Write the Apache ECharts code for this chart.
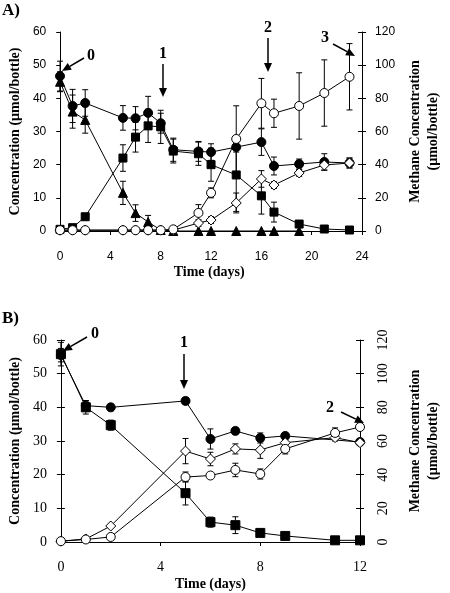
<!DOCTYPE html>
<html><head><meta charset="utf-8">
<script src="https://cdn.jsdelivr.net/npm/echarts/dist/echarts.min.js"></script>
<style>html,body{margin:0;padding:0;background:#fff}#c{width:450px;height:593px}</style>
</head><body><div id="c"></div>
<script>
// ---------- Panel A data ----------
const ticksA_x = [0, 4, 8, 12, 16, 20, 24];
const circA_days = [0,1,2,5,6,7,8,9,11,12,14,16,17,19,21,23];
const circA_vals = [46.7,37.7,38.6,34.1,34.0,35.6,32.5,24.5,24.0,23.8,25.3,26.8,19.6,20.2,20.8,20.5];
const circA_err  = [4.5,5,4,3.7,3.5,5,3,3.5,3,2.5,1.5,4,2.7,1.5,2.5,1.5];

const sqA_days = [0,1,2,5,6,7,8,9,11,12,14,16,17,19,21,23];
const sqA_vals = [0.5,1.0,4.3,22,28.3,31.7,31.4,24.1,23.3,20,16.9,10.6,5.7,2.1,0.6,0.3];
const sqA_err  = [0,0,0,4,4.5,5,5,3.6,3.5,5,11,5.5,3,0,0,0];

const triA_days = [0,1,2,5,6,7,8,9,11,12,14,16,17,19];
const triA_vals = [45,36,33.5,11.5,5.4,2.7,0.3,0,0,0,0,0,0,0];
const triA_err  = [3,5,4,3.5,2.5,2,0,0,0,0,0,0,0,0];

// methane (right axis)
const ocA_days = [0,1,2,5,6,7,8,9,11,12,14,16,17,19,21,23];
const ocA_vals = [0.5,0.5,0.5,0.5,0.5,0.5,0.5,1,10.9,23,55.5,77,71,75.4,83.2,93];
const ocA_err  = [0,0,0,0,0,0,0,0,5,3,20,15,8.5,20,20,20];

const dmA_days = [0,1,2,5,6,7,8,9,11,12,14,16,17,19,21,23];
const dmA_vals = [0.5,0.5,0.5,0.5,0.5,0.5,0.5,0.5,4.8,6.6,16.9,31.4,27.7,35,39.8,41];
const dmA_err  = [0,0,0,0,0,0,0,0,2,2,6,5,2,2,3,3];

// ---------- Panel B data ----------
const ticksB_x = [0, 4, 8, 12];
const sqB_days = [0,1,2,5,6,7,8,9,11,12];
const sqB_vals = [55.8,40,34.7,14.5,5.9,5,2.7,1.8,0.5,0.5];
const sqB_err  = [3.5,2,1.5,3.5,1.5,2.5,1,0.5,0.5,0.5];

const circB_days = [0,1,2,5,6,7,8,9,12];
const circB_vals = [55.5,40.5,40,41.9,30.6,33,30.9,31.5,29.7];
const circB_err  = [2,1.5,1,1,3,1,1.5,1,1];

const dmB_days = [0,1,2,5,6,7,8,9,11,12];
const dmB_vals = [0.5,1.8,9.5,54,49.3,55.3,54.7,59,62,59];
const dmB_err  = [0,0,0,7.5,4,3,5,2,2,1];

const ocB_days = [0,1,2,5,6,7,8,9,11,12];
const ocB_vals = [0.5,1.5,3,38.6,39.5,42.8,40.4,55.3,64.8,68.3];
const ocB_err  = [0,0,0,3,1,4,3,3,3,2];

const SERIF = '"Liberation Serif","Times New Roman",serif';
const SANS = '"Liberation Sans",Arial,sans-serif';

function errRender(params, api) {
  const x = api.value(0), y = api.value(1), e = api.value(2);
  if (!e) return { type: 'group', children: [] };
  const t = api.coord([x, y + e]), b = api.coord([x, y - e]);
  const w = 3, st = { stroke: '#000', lineWidth: 1 };
  return { type: 'group', children: [
    { type: 'line', shape: { x1: t[0], y1: t[1], x2: b[0], y2: b[1] }, style: st },
    { type: 'line', shape: { x1: t[0] - w, y1: t[1], x2: t[0] + w, y2: t[1] }, style: st },
    { type: 'line', shape: { x1: b[0] - w, y1: b[1], x2: b[0] + w, y2: b[1] }, style: st }
  ]};
}

const series = [];
function addSet(xi, yi, days, vals, errs, symbol, filled, size) {
  const pts = days.map((d, i) => [d, vals[i]]);
  series.push({ type: 'line', xAxisIndex: xi, yAxisIndex: yi, data: pts, symbol: 'none',
    lineStyle: { color: '#000', width: 1 }, z: 2, silent: true, animation: false });
  series.push({ type: 'custom', xAxisIndex: xi, yAxisIndex: yi,
    data: days.map((d, i) => [d, vals[i], errs[i]]), renderItem: errRender,
    encode: { x: 0, y: 1 }, z: 3, silent: true, animation: false });
  series.push({ type: 'scatter', xAxisIndex: xi, yAxisIndex: yi, data: pts, symbol: symbol,
    symbolSize: size, z: 4, silent: true, animation: false,
    itemStyle: filled ? { color: '#000', borderColor: '#000', borderWidth: 1, opacity: 1 }
                      : { color: '#fff', borderColor: '#000', borderWidth: 1, opacity: 1 } });
}
// Panel A
addSet(0, 0, triA_days, triA_vals, triA_err, 'triangle', true, 9);
addSet(0, 0, sqA_days, sqA_vals, sqA_err, 'rect', true, 8);
addSet(0, 0, circA_days, circA_vals, circA_err, 'circle', true, 9);
addSet(0, 1, dmA_days, dmA_vals, dmA_err, 'diamond', false, 10);
addSet(0, 1, ocA_days, ocA_vals, ocA_err, 'circle', false, 9);
// Panel B
addSet(1, 2, sqB_days, sqB_vals, sqB_err, 'rect', true, 9);
addSet(1, 2, circB_days, circB_vals, circB_err, 'circle', true, 9);
addSet(1, 3, dmB_days, dmB_vals, dmB_err, 'diamond', false, 10);
addSet(1, 3, ocB_days, ocB_vals, ocB_err, 'circle', false, 9);

const axLine = { show: true, lineStyle: { color: '#000', width: 1 } };
const nameStyle = { fontFamily: SERIF, fontWeight: 'bold', fontSize: 14, color: '#000' };

function tickDup(gi, pos, max, interval) {
  return { type: 'value', gridIndex: gi, position: pos, min: 0, max: max, interval: interval,
    axisLine: { show: false }, axisLabel: { show: false }, splitLine: { show: false },
    axisTick: { show: true, inside: true, length: 4, lineStyle: { color: '#000' } } };
}

function arrow(x1, y1, x2, y2) {
  const dx = x2 - x1, dy = y2 - y1, L = Math.hypot(dx, dy), ux = dx / L, uy = dy / L;
  const hl = 9, hw = 4;
  const bx = x2 - ux * hl, by = y2 - uy * hl;
  return [
    { type: 'line', shape: { x1: x1, y1: y1, x2: bx, y2: by }, style: { stroke: '#000', lineWidth: 1.5 }, z: 10 },
    { type: 'polygon', shape: { points: [[x2, y2], [bx - uy * hw, by + ux * hw], [bx + uy * hw, by - ux * hw]] }, style: { fill: '#000' }, z: 10 }
  ];
}
function label(t, x, y, size) {
  return { type: 'text', x: x, y: y, z: 10, style: { text: t, font: 'bold ' + (size || 16) + 'px ' + SERIF, fill: '#000', textAlign: 'center', textVerticalAlign: 'middle' } };
}

const graphics = [
  { type: 'text', left: 2, top: 2, style: { text: 'A)', font: 'bold 17px ' + SERIF, fill: '#000' } },
  { type: 'text', left: 2, top: 310, style: { text: 'B)', font: 'bold 17px ' + SERIF, fill: '#000' } },
  label('0', 91, 56), ...arrow(84, 58, 62, 71),
  label('1', 163, 54), ...arrow(163, 64, 163, 97),
  label('2', 268, 28), ...arrow(268, 38, 268, 72),
  label('3', 325, 38), ...arrow(333, 44, 355, 56),
  label('0', 95, 334), ...arrow(87, 337, 63, 351),
  label('1', 184, 343), ...arrow(184, 354, 184, 389),
  label('2', 330, 408), ...arrow(341, 412, 364, 423)
];

const option = {
  animation: false,
  backgroundColor: '#fff',
  grid: [
    { left: 50, right: 77, top: 32, bottom: 362 },
    { left: 52, right: 79, top: 340, bottom: 51 }
  ],
  xAxis: [
    { type: 'value', gridIndex: 0, min: -0.3, max: 24, axisLine: axLine,
      axisTick: { show: true, length: 4, customValues: ticksA_x, lineStyle: { color: '#000' } },
      axisLabel: { customValues: ticksA_x, margin: 20, fontFamily: SANS, fontSize: 12, color: '#000' },
      splitLine: { show: false },
      name: 'Time (days)', nameLocation: 'middle', nameGap: 34, nameTextStyle: nameStyle },
    { type: 'value', gridIndex: 1, min: 0, max: 12, interval: 4, axisLine: axLine,
      axisTick: { show: true, length: 4, lineStyle: { color: '#000' } },
      axisLabel: { margin: 18, fontFamily: SERIF, fontSize: 14, color: '#000' },
      splitLine: { show: false },
      name: 'Time (days)', nameLocation: 'middle', nameGap: 35, nameTextStyle: nameStyle }
  ],
  yAxis: [
    { type: 'value', gridIndex: 0, position: 'left', min: 0, max: 60, interval: 10, axisLine: axLine,
      axisTick: { show: true, length: 2, lineStyle: { color: '#000' } },
      axisLabel: { margin: 10, fontFamily: SANS, fontSize: 12, color: '#000' }, splitLine: { show: false },
      name: 'Concentration (µmol/bottle)', nameLocation: 'middle', nameRotate: 90, nameGap: 33, nameTextStyle: nameStyle },
    { type: 'value', gridIndex: 0, position: 'right', min: 0, max: 120, interval: 20, axisLine: axLine,
      axisTick: { show: true, length: 4, lineStyle: { color: '#000' } },
      axisLabel: { margin: 13, fontFamily: SANS, fontSize: 12, color: '#000' }, splitLine: { show: false },
      name: 'Methane Concentration\n(µmol/bottle)', nameLocation: 'middle', nameRotate: 90, nameGap: 42,
      nameTextStyle: Object.assign({ lineHeight: 18 }, nameStyle) },
    { type: 'value', gridIndex: 1, position: 'left', min: 0, max: 60, interval: 10, axisLine: axLine,
      axisTick: { show: true, length: 4, lineStyle: { color: '#000' } },
      axisLabel: { margin: 14, fontFamily: SERIF, fontSize: 14, color: '#000' }, splitLine: { show: false },
      name: 'Concentration (µmol/bottle)', nameLocation: 'middle', nameRotate: 90, nameGap: 35, nameTextStyle: nameStyle },
    { type: 'value', gridIndex: 1, position: 'right', min: 0, max: 120, interval: 20, axisLine: axLine,
      axisTick: { show: true, length: 4, lineStyle: { color: '#000' } },
      axisLabel: { margin: 16, rotate: 90, fontFamily: SERIF, fontSize: 14, color: '#000' }, splitLine: { show: false },
      name: 'Methane Concentration\n(µmol/bottle)', nameLocation: 'middle', nameRotate: 90, nameGap: 46,
      nameTextStyle: Object.assign({ lineHeight: 18 }, nameStyle) },
    tickDup(0, 'left', 60, 10),
    tickDup(0, 'right', 120, 20),
    tickDup(1, 'left', 60, 10),
    tickDup(1, 'right', 120, 20)
  ],
  series: series,
  graphic: graphics
};
const chart = echarts.init(document.getElementById('c'), null, { renderer: 'canvas' });
chart.setOption(option);
</script></body></html>
